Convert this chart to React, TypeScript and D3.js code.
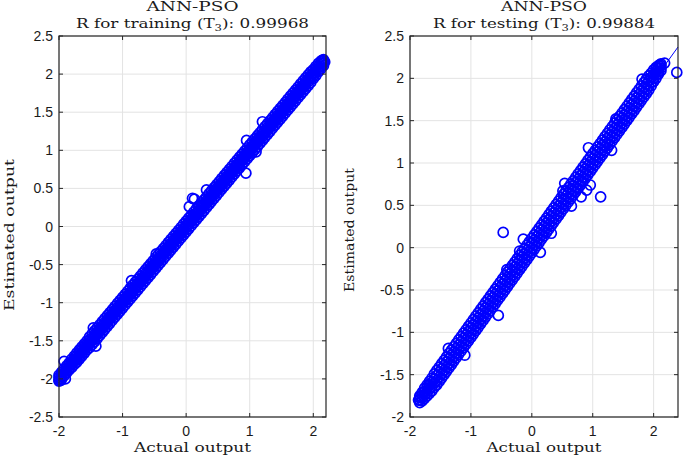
import React from "react";
import * as d3 from "d3";

// ---------- data ----------
const trainXTicks = [-2, -1, 0, 1, 2];
const trainYTicks = [-2.5, -2, -1.5, -1, -0.5, 0, 0.5, 1, 1.5, 2, 2.5];
const testXTicks = [-2, -1, 0, 1, 2];
const testYTicks = [-2, -1.5, -1, -0.5, 0, 0.5, 1, 1.5, 2, 2.5];

const trainTitle = "R for training (T";
const trainR = "0.99968";
const testTitle = "R for testing (T";
const testR = "0.99884";

// fit lines: [x0, x1, slope, intercept]
const trainFit = [-2.0, 2.2, 0.999, 0.0];
const testFit = [-1.86, 2.4, 0.995, -0.018];

// rows: [actual, estimated, estimated, ...]
const trainRows: number[][] = [
  [-2.00, -2.03, -2.01, -1.98, -1.95], [-1.96, -2.00, -1.97, -1.94, -1.91], [-1.92, -1.96, -1.93, -1.90, -1.87],
  [-1.88, -1.92, -1.89, -1.86, -1.83], [-1.84, -1.88, -1.85, -1.82, -1.79], [-1.80, -1.85, -1.81, -1.78, -1.74],
  [-1.76, -1.81, -1.77, -1.74, -1.70], [-1.72, -1.78, -1.74, -1.70, -1.66], [-1.68, -1.74, -1.70, -1.66, -1.62],
  [-1.64, -1.70, -1.66, -1.62, -1.58], [-1.60, -1.66, -1.62, -1.58, -1.54], [-1.56, -1.62, -1.58, -1.54, -1.50],
  [-1.52, -1.59, -1.54, -1.50, -1.45], [-1.48, -1.55, -1.50, -1.46, -1.41], [-1.44, -1.51, -1.46, -1.42, -1.37],
  [-1.40, -1.47, -1.42, -1.38, -1.33], [-1.36, -1.43, -1.38, -1.34, -1.29], [-1.32, -1.39, -1.34, -1.30, -1.25],
  [-1.28, -1.35, -1.30, -1.26, -1.21], [-1.24, -1.31, -1.26, -1.22, -1.17], [-1.20, -1.27, -1.22, -1.18, -1.13],
  [-1.16, -1.23, -1.18, -1.14, -1.09], [-1.12, -1.19, -1.14, -1.10, -1.05], [-1.08, -1.15, -1.10, -1.06, -1.01],
  [-1.04, -1.11, -1.06, -1.02, -0.97], [-1.00, -1.07, -1.02, -0.98, -0.93], [-0.96, -1.03, -0.98, -0.94, -0.89],
  [-0.92, -0.99, -0.94, -0.90, -0.85], [-0.88, -0.95, -0.90, -0.86, -0.81], [-0.84, -0.91, -0.86, -0.82, -0.77],
  [-0.80, -0.87, -0.82, -0.78, -0.73], [-0.76, -0.83, -0.78, -0.74, -0.69], [-0.72, -0.79, -0.74, -0.70, -0.65],
  [-0.68, -0.75, -0.70, -0.66, -0.61], [-0.64, -0.71, -0.66, -0.62, -0.57], [-0.60, -0.67, -0.62, -0.58, -0.53],
  [-0.56, -0.63, -0.58, -0.54, -0.49], [-0.52, -0.59, -0.54, -0.50, -0.45], [-0.48, -0.55, -0.50, -0.46, -0.41],
  [-0.44, -0.51, -0.46, -0.42, -0.37], [-0.40, -0.47, -0.42, -0.38, -0.33], [-0.36, -0.43, -0.38, -0.34, -0.29],
  [-0.32, -0.39, -0.34, -0.30, -0.25], [-0.28, -0.35, -0.30, -0.26, -0.21], [-0.24, -0.31, -0.26, -0.22, -0.17],
  [-0.20, -0.27, -0.22, -0.18, -0.13], [-0.16, -0.23, -0.18, -0.14, -0.09], [-0.12, -0.19, -0.14, -0.10, -0.05],
  [-0.08, -0.15, -0.10, -0.06, -0.01], [-0.04, -0.11, -0.06, -0.02, 0.03], [0.00, -0.07, -0.02, 0.02, 0.07],
  [0.04, -0.03, 0.02, 0.06, 0.11], [0.08, 0.01, 0.06, 0.10, 0.15], [0.12, 0.05, 0.10, 0.14, 0.19],
  [0.16, 0.09, 0.14, 0.18, 0.23], [0.20, 0.13, 0.18, 0.22, 0.27], [0.24, 0.17, 0.22, 0.26, 0.31],
  [0.28, 0.21, 0.26, 0.30, 0.35], [0.32, 0.25, 0.30, 0.34, 0.39], [0.36, 0.29, 0.34, 0.38, 0.43],
  [0.40, 0.33, 0.38, 0.42, 0.47], [0.44, 0.37, 0.42, 0.46, 0.51], [0.48, 0.41, 0.46, 0.50, 0.55],
  [0.52, 0.45, 0.50, 0.54, 0.59], [0.56, 0.49, 0.54, 0.58, 0.63], [0.60, 0.53, 0.58, 0.62, 0.67],
  [0.64, 0.57, 0.62, 0.66, 0.71], [0.68, 0.61, 0.66, 0.70, 0.75], [0.72, 0.65, 0.70, 0.74, 0.79],
  [0.76, 0.69, 0.74, 0.78, 0.83], [0.80, 0.73, 0.78, 0.82, 0.87], [0.84, 0.77, 0.82, 0.86, 0.91],
  [0.88, 0.81, 0.86, 0.90, 0.95], [0.92, 0.85, 0.90, 0.94, 0.99], [0.96, 0.89, 0.94, 0.98, 1.03],
  [1.00, 0.93, 0.98, 1.02, 1.07], [1.04, 0.97, 1.02, 1.06, 1.11], [1.08, 1.01, 1.06, 1.10, 1.15],
  [1.12, 1.05, 1.10, 1.14, 1.19], [1.16, 1.09, 1.14, 1.18, 1.23], [1.20, 1.13, 1.18, 1.22, 1.27],
  [1.24, 1.17, 1.22, 1.26, 1.31], [1.28, 1.21, 1.26, 1.30, 1.35], [1.32, 1.25, 1.30, 1.34, 1.39],
  [1.36, 1.29, 1.34, 1.38, 1.43], [1.40, 1.33, 1.38, 1.42, 1.47], [1.44, 1.37, 1.42, 1.46, 1.51],
  [1.48, 1.41, 1.46, 1.50, 1.55], [1.52, 1.45, 1.50, 1.54, 1.59], [1.56, 1.49, 1.54, 1.58, 1.63],
  [1.60, 1.53, 1.58, 1.62, 1.67], [1.64, 1.57, 1.62, 1.66, 1.71], [1.68, 1.61, 1.66, 1.70, 1.75],
  [1.72, 1.65, 1.70, 1.74, 1.79], [1.76, 1.69, 1.74, 1.78, 1.83], [1.80, 1.73, 1.78, 1.82, 1.87],
  [1.84, 1.77, 1.82, 1.86, 1.91], [1.88, 1.81, 1.86, 1.90, 1.95], [1.92, 1.85, 1.90, 1.94, 1.99],
  [1.96, 1.89, 1.94, 1.98, 2.03], [2.00, 1.94, 1.98, 2.02, 2.06], [2.04, 1.98, 2.02, 2.06, 2.10],
  [2.08, 2.03, 2.06, 2.10, 2.14], [2.12, 2.07, 2.10, 2.14, 2.17], [2.16, 2.11, 2.14, 2.17, 2.19],
];
const trainOutliers: [number, number][] = [
  [-1.97, -2.02], [-1.90, -2.00], [-1.92, -1.77], [-1.42, -1.57], [-1.46, -1.33], [-0.86, -0.71],
  [-0.47, -0.36], [0.05, 0.26], [0.10, 0.37], [0.13, 0.36], [0.32, 0.48], [0.94, 0.70], [0.95, 1.13],
  [1.10, 0.98], [1.20, 1.375], [2.14, 2.18], [2.18, 2.16],
];

const testRows: number[][] = [
  [-1.84, -1.83, -1.80, -1.77, -1.75], [-1.80, -1.81, -1.77, -1.74, -1.71], [-1.76, -1.78, -1.74, -1.70, -1.66],
  [-1.72, -1.75, -1.71, -1.66, -1.62], [-1.68, -1.72, -1.67, -1.62, -1.58], [-1.64, -1.69, -1.64, -1.59, -1.54],
  [-1.60, -1.65, -1.60, -1.55, -1.49], [-1.56, -1.62, -1.57, -1.51, -1.45], [-1.52, -1.58, -1.53, -1.47, -1.41],
  [-1.48, -1.54, -1.49, -1.43, -1.37], [-1.44, -1.50, -1.45, -1.39, -1.33], [-1.40, -1.46, -1.41, -1.35, -1.29],
  [-1.36, -1.42, -1.37, -1.31, -1.25], [-1.32, -1.38, -1.33, -1.27, -1.21], [-1.28, -1.34, -1.29, -1.23, -1.17],
  [-1.24, -1.30, -1.25, -1.19, -1.13], [-1.20, -1.26, -1.21, -1.15, -1.09], [-1.16, -1.22, -1.17, -1.11, -1.05],
  [-1.12, -1.18, -1.13, -1.07, -1.01], [-1.08, -1.14, -1.09, -1.03, -0.97], [-1.04, -1.10, -1.05, -0.99, -0.93],
  [-1.00, -1.06, -1.01, -0.95, -0.89], [-0.96, -1.02, -0.97, -0.91, -0.85], [-0.92, -0.98, -0.93, -0.87, -0.81],
  [-0.88, -0.94, -0.89, -0.83, -0.77], [-0.84, -0.90, -0.85, -0.79, -0.73], [-0.80, -0.86, -0.81, -0.75, -0.69],
  [-0.76, -0.82, -0.77, -0.71, -0.65], [-0.72, -0.78, -0.73, -0.67, -0.61], [-0.68, -0.74, -0.69, -0.63, -0.57],
  [-0.64, -0.70, -0.65, -0.59, -0.53], [-0.60, -0.66, -0.61, -0.55, -0.49], [-0.56, -0.62, -0.57, -0.51, -0.45],
  [-0.52, -0.58, -0.53, -0.47, -0.41], [-0.48, -0.54, -0.49, -0.43, -0.37], [-0.44, -0.50, -0.45, -0.39, -0.33],
  [-0.40, -0.46, -0.41, -0.35, -0.29], [-0.36, -0.42, -0.37, -0.31, -0.25], [-0.32, -0.38, -0.33, -0.27, -0.21],
  [-0.28, -0.34, -0.29, -0.23, -0.17], [-0.24, -0.30, -0.25, -0.19, -0.13], [-0.20, -0.26, -0.21, -0.15, -0.09],
  [-0.16, -0.22, -0.17, -0.11, -0.05], [-0.12, -0.18, -0.13, -0.07, -0.01], [-0.08, -0.14, -0.09, -0.03, 0.03],
  [-0.04, -0.10, -0.05, 0.01, 0.07], [0.00, -0.06, -0.01, 0.05, 0.11], [0.04, -0.02, 0.03, 0.09, 0.15],
  [0.08, 0.02, 0.07, 0.13, 0.19], [0.12, 0.06, 0.11, 0.17, 0.23], [0.16, 0.10, 0.15, 0.21, 0.27],
  [0.20, 0.14, 0.19, 0.25, 0.31], [0.24, 0.18, 0.23, 0.29, 0.35], [0.28, 0.22, 0.27, 0.33, 0.39],
  [0.32, 0.26, 0.31, 0.37, 0.43], [0.36, 0.30, 0.35, 0.41, 0.47], [0.40, 0.34, 0.39, 0.45, 0.51],
  [0.44, 0.38, 0.43, 0.49, 0.55], [0.48, 0.42, 0.47, 0.53, 0.59], [0.52, 0.46, 0.51, 0.57, 0.63],
  [0.56, 0.50, 0.55, 0.61, 0.67], [0.60, 0.54, 0.59, 0.65, 0.71], [0.64, 0.58, 0.63, 0.69, 0.75],
  [0.68, 0.62, 0.67, 0.73, 0.79], [0.72, 0.66, 0.71, 0.77, 0.83], [0.76, 0.70, 0.75, 0.81, 0.87],
  [0.80, 0.74, 0.79, 0.85, 0.91], [0.84, 0.78, 0.83, 0.89, 0.95], [0.88, 0.82, 0.87, 0.93, 0.99],
  [0.92, 0.86, 0.91, 0.97, 1.03], [0.96, 0.90, 0.95, 1.01, 1.07], [1.00, 0.94, 0.99, 1.05, 1.11],
  [1.04, 0.98, 1.03, 1.09, 1.15], [1.08, 1.02, 1.07, 1.13, 1.19], [1.12, 1.06, 1.11, 1.17, 1.23],
  [1.16, 1.10, 1.15, 1.21, 1.27], [1.20, 1.14, 1.19, 1.25, 1.31], [1.24, 1.18, 1.23, 1.29, 1.35],
  [1.28, 1.22, 1.27, 1.33, 1.39], [1.32, 1.26, 1.31, 1.37, 1.43], [1.36, 1.30, 1.35, 1.41, 1.47],
  [1.40, 1.34, 1.39, 1.45, 1.51], [1.44, 1.38, 1.43, 1.49, 1.55], [1.48, 1.42, 1.47, 1.53, 1.59],
  [1.52, 1.46, 1.51, 1.57, 1.63], [1.56, 1.50, 1.55, 1.61, 1.67], [1.60, 1.54, 1.59, 1.65, 1.71],
  [1.64, 1.58, 1.63, 1.69, 1.75], [1.68, 1.62, 1.67, 1.73, 1.79], [1.72, 1.66, 1.71, 1.77, 1.83],
  [1.76, 1.70, 1.75, 1.81, 1.87], [1.80, 1.74, 1.79, 1.85, 1.91], [1.84, 1.78, 1.83, 1.89, 1.95],
  [1.88, 1.82, 1.87, 1.93, 1.99], [1.92, 1.86, 1.91, 1.97, 2.03], [1.96, 1.91, 1.95, 2.01, 2.06],
  [2.00, 1.96, 2.00, 2.05, 2.10], [2.04, 2.00, 2.04, 2.09, 2.13], [2.08, 2.05, 2.08, 2.12, 2.15],
  [2.12, 2.09, 2.12, 2.15, 2.17],
];
const testOutliers: [number, number][] = [
  [-1.86, -1.80], [-1.37, -1.19], [-1.10, -1.27], [-0.55, -0.80], [-0.47, 0.18], [-0.41, -0.26],
  [-0.20, -0.04], [-0.14, 0.10], [0.14, -0.055], [0.32, 0.17], [0.51, 0.67], [0.54, 0.76], [0.65, 0.49],
  [0.81, 0.60], [0.90, 0.68], [0.96, 0.74], [0.93, 1.18], [1.13, 0.60], [1.31, 1.15], [1.38, 1.52],
  [1.81, 1.99], [2.10, 2.16], [2.18, 2.18], [2.38, 2.07],
];

// ---------- drawing ----------
const W = 685;
const H = 455;
const serif = "'DejaVu Serif', 'Liberation Serif', serif";
const sans = "'Liberation Sans', Arial, sans-serif";
const blue = "#0000ff";
const gridColor = "#e3e3e3";
const axisColor = "#262626";

type PanelProps = {
  left: number; right: number; top: number; bottom: number;
  xDomain: [number, number]; yDomain: [number, number];
  xTicks: number[]; yTicks: number[];
  rows: number[][]; outliers: [number, number][];
  fit: number[];
  title: string; rValue: string;
  titleLen: number; headLen: number;
  xLabelLen: number; yLabelLen: number; yLabelX: number; yLabelY: number;
};

function Panel(p: PanelProps) {
  const x = d3.scaleLinear().domain(p.xDomain).range([p.left, p.right]);
  const y = d3.scaleLinear().domain(p.yDomain).range([p.bottom, p.top]);
  const cx = (p.left + p.right) / 2;
  const tickLen = 4;
  const points: [number, number][] = [];
  p.rows.forEach((r) => r.slice(1).forEach((v) => points.push([r[0], v])));
  p.outliers.forEach((o) => points.push(o));
  const line = d3.line<[number, number]>().x((d) => x(d[0])).y((d) => y(d[1]));
  const fitData: [number, number][] = [
    [p.fit[0], p.fit[2] * p.fit[0] + p.fit[3]],
    [p.fit[1], p.fit[2] * p.fit[1] + p.fit[3]],
  ];
  const fmt = (v: number) => (v < 0 ? "-" + String(Math.abs(v)) : String(v));
  return (
    <g>
      {p.xTicks.map((t) => (
        <line key={"gx" + t} x1={x(t)} x2={x(t)} y1={p.top} y2={p.bottom} stroke={gridColor} strokeWidth={1} />
      ))}
      {p.yTicks.map((t) => (
        <line key={"gy" + t} x1={p.left} x2={p.right} y1={y(t)} y2={y(t)} stroke={gridColor} strokeWidth={1} />
      ))}
      <g>
        {points.map((d, i) => (
          <circle key={i} cx={x(d[0])} cy={y(d[1])} r={5} fill="none" stroke={blue} strokeWidth={1.7} />
        ))}
      </g>
      <path d={line(fitData) || ""} stroke={blue} strokeWidth={1} fill="none" />
      <rect x={p.left} y={p.top} width={p.right - p.left} height={p.bottom - p.top} fill="none" stroke={axisColor} strokeWidth={1.2} />
      {p.xTicks.map((t) => (
        <g key={"tx" + t}>
          <line x1={x(t)} x2={x(t)} y1={p.bottom} y2={p.bottom - tickLen} stroke={axisColor} />
          <line x1={x(t)} x2={x(t)} y1={p.top} y2={p.top + tickLen} stroke={axisColor} />
          <text x={x(t)} y={p.bottom + 19} textAnchor="middle" fontFamily={sans} fontSize={14} fill="#1a1a1a">
            {fmt(t)}
          </text>
        </g>
      ))}
      {p.yTicks.map((t) => (
        <g key={"ty" + t}>
          <line x1={p.left} x2={p.left + tickLen} y1={y(t)} y2={y(t)} stroke={axisColor} />
          <line x1={p.right} x2={p.right - tickLen} y1={y(t)} y2={y(t)} stroke={axisColor} />
          <text x={p.left - 6} y={y(t) + 5} textAnchor="end" fontFamily={sans} fontSize={14} fill="#1a1a1a">
            {fmt(t)}
          </text>
        </g>
      ))}
      <text x={cx} y={11} textAnchor="middle" fontFamily={serif} fontSize={13} fill="#1a1a1a"
        textLength={p.headLen} lengthAdjust="spacingAndGlyphs">ANN-PSO</text>
      <text x={cx} y={28} textAnchor="middle" fontFamily={serif} fontSize={13} fill="#1a1a1a"
        textLength={p.titleLen} lengthAdjust="spacingAndGlyphs">
        {p.title}
        <tspan fontSize={9} dy={3}>3</tspan>
        <tspan dy={-3}>{"): " + p.rValue}</tspan>
      </text>
      <text x={cx} y={452} textAnchor="middle" fontFamily={serif} fontSize={13} fill="#1a1a1a"
        textLength={p.xLabelLen} lengthAdjust="spacingAndGlyphs">Actual output</text>
      <text transform={`translate(${p.yLabelX},${p.yLabelY}) rotate(-90)`} textAnchor="middle" fontFamily={serif}
        fontSize={13} fill="#1a1a1a" textLength={p.yLabelLen} lengthAdjust="spacingAndGlyphs">Estimated output</text>
    </g>
  );
}

export default function App() {
  return (
    <svg width={W} height={H} style={{ position: "absolute", left: 0, top: 0, background: "#fff" }}>
      <rect width={W} height={H} fill="#fff" />
      <Panel left={59} right={326} top={36} bottom={417}
        xDomain={[-2, 2.2]} yDomain={[-2.5, 2.5]}
        xTicks={trainXTicks} yTicks={trainYTicks}
        rows={trainRows} outliers={trainOutliers} fit={trainFit}
        title={trainTitle} rValue={trainR}
        titleLen={233} headLen={92} xLabelLen={117} yLabelLen={152} yLabelX={14} yLabelY={235} />
      <Panel left={410} right={678} top={36} bottom={417}
        xDomain={[-2, 2.4]} yDomain={[-2, 2.5]}
        xTicks={testXTicks} yTicks={testYTicks}
        rows={testRows} outliers={testOutliers} fit={testFit}
        title={testTitle} rValue={testR}
        titleLen={222} headLen={86} xLabelLen={115} yLabelLen={124} yLabelX={354} yLabelY={230} />
    </svg>
  );
}
